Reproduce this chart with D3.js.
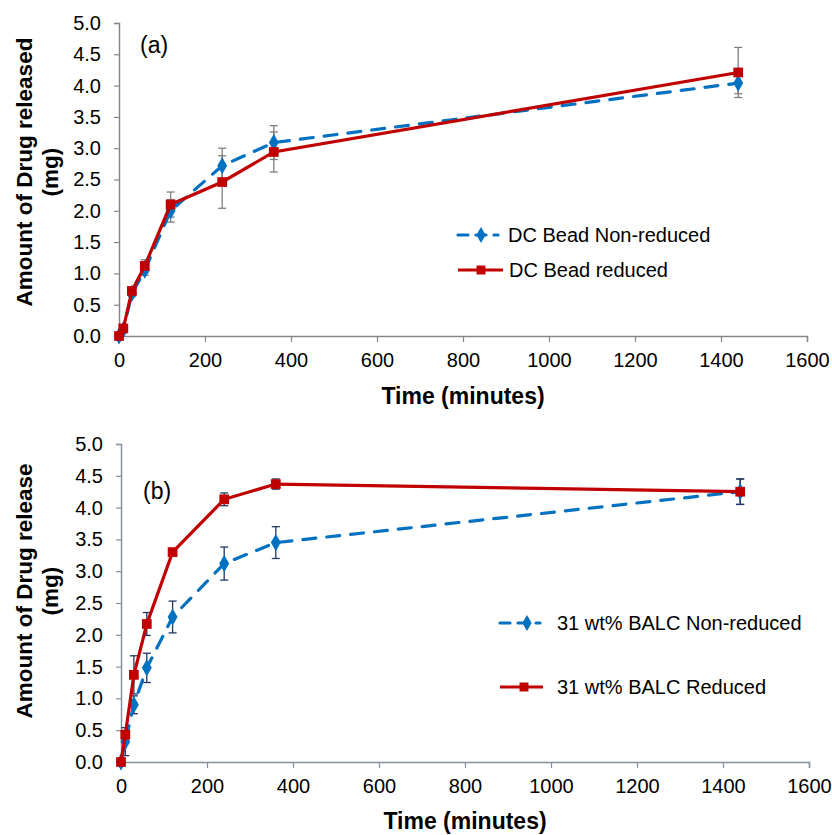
<!DOCTYPE html>
<html>
<head>
<meta charset="utf-8">
<script src="https://cdn.jsdelivr.net/npm/d3@7"></script>
<style>
  body { margin: 0; background: #fff; }
  text { font-family: "Liberation Sans", Arial, sans-serif; }
</style>
</head>
<body>
<div id="chart"></div>
<script>
// time points (minutes)
var times = [0, 10, 30, 60, 120, 240, 360, 1440];
var xTicks = [0, 200, 400, 600, 800, 1000, 1200, 1400, 1600];
var yTicks = [0, 0.5, 1, 1.5, 2, 2.5, 3, 3.5, 4, 4.5, 5];

// panel (a)
var aNonReduced = [0, 0.10, 0.68, 1.05, 2.00, 2.72, 3.09, 4.04];
var aNonReducedErr = [0, 0.03, 0.05, 0.08, 0.18, 0.28, 0.27, 0.17];
var aReduced = [0, 0.12, 0.72, 1.12, 2.10, 2.46, 2.94, 4.21];
var aReducedErr = [0, 0.03, 0.05, 0.10, 0.20, 0.42, 0.32, 0.40];

// panel (b)
var bNonReduced = [0, 0.32, 0.90, 1.48, 2.28, 3.12, 3.45, 4.25];
var bNonReducedErr = [0, 0.22, 0.14, 0.23, 0.25, 0.26, 0.25, 0.20];
var bReduced = [0, 0.43, 1.37, 2.17, 3.30, 4.13, 4.37, 4.25];
var bReducedErr = [0, 0.05, 0.30, 0.18, 0.05, 0.10, 0.08, 0.20];

var svg = d3.select("#chart").append("svg")
  .attr("width", 832)
  .attr("height", 835);

function drawPanel(p) {
  var x = d3.scaleLinear().domain([0, 1600]).range([p.left, p.left + 688]);
  var y = d3.scaleLinear().domain([0, 5]).range([p.bottom, p.top]);

  var g = svg.append("g");

  // axes
  var xAxis = g.append("g")
    .attr("transform", "translate(0," + p.bottom + ")")
    .call(d3.axisBottom(x).tickValues(xTicks).tickSize(6).tickPadding(11).tickFormat(d3.format("d")));
  var yAxis = g.append("g")
    .attr("transform", "translate(" + p.left + ",0)")
    .call(d3.axisLeft(y).tickValues(yTicks).tickSize(5).tickPadding(13).tickFormat(d3.format(".1f")));

  [xAxis, yAxis].forEach(function(ax) {
    ax.select(".domain").attr("stroke", p.axisColor).attr("stroke-width", 1.5);
    ax.selectAll(".tick line").attr("stroke", p.axisColor).attr("stroke-width", 1.2);
    ax.selectAll(".tick text").attr("fill", "#000").style("font-size", "20px");
  });

  var series = [
    {vals: p.blue, err: p.blueErr, color: "#0070c0", dash: "13,11", marker: "diamond"},
    {vals: p.red, err: p.redErr, color: "#c00000", dash: null, marker: "square"}
  ];

  // error bars
  series.forEach(function(s) {
    var eb = g.append("g");
    times.forEach(function(t, i) {
      if (!s.err[i]) return;
      var cx = x(t), y1 = y(s.vals[i] + s.err[i]), y2 = y(s.vals[i] - s.err[i]);
      eb.append("line").attr("x1", cx).attr("x2", cx).attr("y1", y1).attr("y2", y2)
        .attr("stroke", p.errColor).attr("stroke-width", 1.3);
      [y1, y2].forEach(function(yy) {
        eb.append("line").attr("x1", cx - 4).attr("x2", cx + 4).attr("y1", yy).attr("y2", yy)
          .attr("stroke", p.errColor).attr("stroke-width", 1.3);
      });
    });
  });

  var line = d3.line()
    .x(function(d, i) { return x(times[i]); })
    .y(function(d) { return y(d); });

  series.forEach(function(s) {
    g.append("path")
      .datum(s.vals)
      .attr("fill", "none")
      .attr("stroke", s.color)
      .attr("stroke-width", 3.2)
      .attr("stroke-linecap", s.dash ? "round" : "butt")
      .attr("stroke-dasharray", s.dash)
      .attr("d", line);

    var sym = s.marker === "square" ? d3.symbolSquare : d3.symbolDiamond;
    var size = s.marker === "square" ? 95 : 85;
    g.selectAll(null)
      .data(s.vals)
      .enter()
      .append("path")
      .attr("transform", function(d, i) { return "translate(" + x(times[i]) + "," + y(d) + ")"; })
      .attr("d", d3.symbol().type(sym).size(size))
      .attr("fill", s.color);
  });

  // panel label
  g.append("text")
    .attr("x", p.labelX)
    .attr("y", p.labelY)
    .style("font-size", "23px")
    .text(p.label);

  // axis titles
  g.append("text")
    .attr("x", x(800))
    .attr("y", p.bottom + p.titleOffset)
    .attr("text-anchor", "middle")
    .style("font-size", "23px")
    .style("font-weight", "bold")
    .text("Time (minutes)");

  var cy = p.yTitleCenter;
  g.append("text")
    .attr("transform", "translate(32," + cy + ") rotate(-90)")
    .attr("text-anchor", "middle")
    .style("font-size", "22.5px")
    .style("font-weight", "bold")
    .text(p.yTitle);
  g.append("text")
    .attr("transform", "translate(58," + cy + ") rotate(-90)")
    .attr("text-anchor", "middle")
    .style("font-size", "22.5px")
    .style("font-weight", "bold")
    .text("(mg)");

  // legend
  p.legend.forEach(function(item, i) {
    var s = series[i];
    var ly = item.y;
    var lg = g.append("g");
    lg.append("line")
      .attr("x1", item.x).attr("x2", item.x + item.len)
      .attr("y1", ly).attr("y2", ly)
      .attr("stroke", s.color).attr("stroke-width", 3.2)
      .attr("stroke-linecap", s.dash ? "round" : "butt")
      .attr("stroke-dasharray", s.dash ? "10,8" : null);
    lg.append("path")
      .attr("transform", "translate(" + item.mx + "," + ly + ")")
      .attr("d", d3.symbol().type(s.marker === "square" ? d3.symbolSquare : d3.symbolDiamond).size(s.marker === "square" ? 80 : 75))
      .attr("fill", s.color);
    lg.append("text")
      .attr("x", item.tx)
      .attr("y", ly + 7)
      .style("font-size", "20px")
      .text(item.text);
  });
}

drawPanel({
  left: 119, top: 23, bottom: 336,
  label: "(a)", labelX: 140, labelY: 53,
  titleOffset: 68, yTitleCenter: 172,
  yTitle: "Amount of Drug released",
  axisColor: "#868686",
  errColor: "#7f7f7f",
  blue: aNonReduced, blueErr: aNonReducedErr,
  red: aReduced, redErr: aReducedErr,
  legend: [
    {x: 458, len: 40, mx: 481, tx: 508, y: 235, text: "DC Bead Non-reduced"},
    {x: 458, len: 45, mx: 481, tx: 509, y: 270, text: "DC Bead reduced"}
  ]
});

drawPanel({
  left: 121, top: 444, bottom: 762,
  label: "(b)", labelX: 143, labelY: 499,
  titleOffset: 67, yTitleCenter: 591,
  yTitle: "Amount of Drug release",
  axisColor: "#8490a2",
  errColor: "#1f3864",
  blue: bNonReduced, blueErr: bNonReducedErr,
  red: bReduced, redErr: bReducedErr,
  legend: [
    {x: 500, len: 40, mx: 527, tx: 557, y: 623, text: "31 wt% BALC Non-reduced"},
    {x: 500, len: 43, mx: 524, tx: 557, y: 687, text: "31 wt% BALC Reduced"}
  ]
});
</script>
</body>
</html>
